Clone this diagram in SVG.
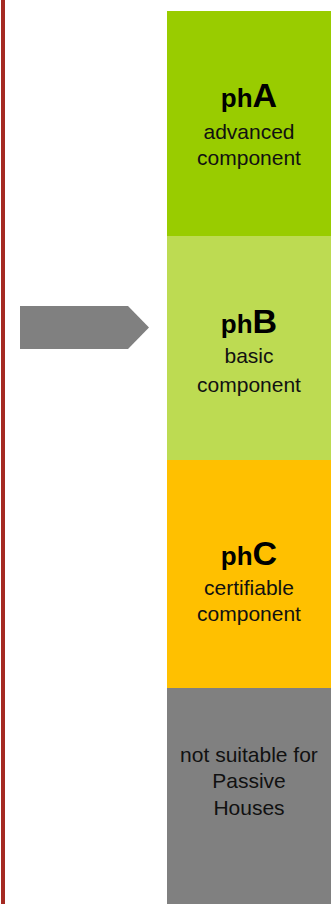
<svg xmlns="http://www.w3.org/2000/svg" width="334" height="904" viewBox="0 0 334 904">
  <style>
    .lbl { font-family: "Liberation Sans", Arial, sans-serif; font-size: 21px; fill: #111; text-anchor: middle; }
    .ph { font-family: "Liberation Sans", Arial, sans-serif; font-weight: bold; fill: #000; text-anchor: middle; }
    .sm { font-size: 26px; }
    .big { font-size: 34px; }
  </style>
  <rect x="0" y="0" width="334" height="904" fill="#ffffff"/>
  <rect id="edge" x="1" y="0" width="4" height="904" fill="#a52a22"/>
  <g id="phA">
    <rect x="167" y="11" width="164" height="225" fill="#99cc00"/>
    <text class="ph" x="249" y="107"><tspan class="sm">ph</tspan><tspan class="big">A</tspan></text>
    <text class="lbl" x="249" y="139">advanced</text>
    <text class="lbl" x="249" y="165">component</text>
  </g>
  <g id="phB">
    <rect x="167" y="236" width="164" height="224" fill="#bddb52"/>
    <text class="ph" x="249" y="333"><tspan class="sm">ph</tspan><tspan class="big">B</tspan></text>
    <text class="lbl" x="249" y="363">basic</text>
    <text class="lbl" x="249" y="392">component</text>
  </g>
  <g id="phC">
    <rect x="167" y="460" width="164" height="228" fill="#ffc000"/>
    <text class="ph" x="249" y="565"><tspan class="sm">ph</tspan><tspan class="big">C</tspan></text>
    <text class="lbl" x="249" y="595">certifiable</text>
    <text class="lbl" x="249" y="621">component</text>
  </g>
  <g id="notSuitable">
    <rect x="167" y="688" width="164" height="216" fill="#808080"/>
    <text class="lbl" x="249" y="762">not suitable for</text>
    <text class="lbl" x="249" y="788">Passive</text>
    <text class="lbl" x="249" y="815">Houses</text>
  </g>
  <g id="connectors">
    <polygon points="20,306 128,306 149,327.5 128,349 20,349" fill="#808080"/>
  </g>
</svg>
